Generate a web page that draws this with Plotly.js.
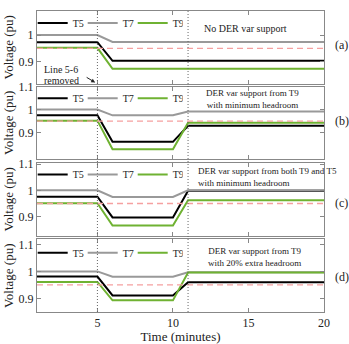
<!DOCTYPE html>
<html>
<head>
<meta charset="utf-8">
<script src="https://cdn.plot.ly/plotly-3.0.1.min.js"></script>
<style>
  html, body { margin: 0; padding: 0; background: #fff; }
  #chart { width: 349px; height: 344px; }
</style>
</head>
<body>
<div id="chart"></div>
<script>
// time points (minutes)
var tA = [1, 5, 6, 20];
var tB = [1, 5, 6, 10, 11, 20];

// (a) no DER var support
var a_T5 = [0.973, 0.973, 0.903, 0.903];
var a_T7 = [1.0, 1.0, 0.974, 0.974];
var a_T9 = [0.952, 0.952, 0.873, 0.873];

// (b) support from T9, minimum headroom
var b_T5 = [0.975, 0.975, 0.86, 0.86, 0.93, 0.93];
var b_T7 = [1.0, 1.0, 0.975, 0.975, 0.992, 0.992];
var b_T9 = [0.952, 0.952, 0.828, 0.828, 0.943, 0.943];

// (c) support from T9 and T5, minimum headroom
var c_T5 = [0.976, 0.976, 0.897, 0.897, 0.998, 0.998];
var c_T7 = [1.0, 1.0, 0.975, 0.975, 1.0, 1.0];
var c_T9 = [0.951, 0.951, 0.866, 0.866, 0.962, 0.962];

// (d) support from T9, 20% extra headroom
var d_T5 = [0.981, 0.981, 0.911, 0.911, 0.96, 0.96];
var d_T7 = [1.0, 1.0, 0.98, 0.98, 0.997, 0.997];
var d_T9 = [0.961, 0.961, 0.893, 0.893, 0.996, 0.996];

var vLimit = 0.95;
var events = [5, 11];

var names = ["T5", "T7", "T9"];
var colors = ["#000000", "#999999", "#6fb232"];
var serif = "Liberation Serif, Times New Roman, serif";

var panels = [
  { t: tA, ys: [a_T5, a_T7, a_T9] },
  { t: tB, ys: [b_T5, b_T7, b_T9] },
  { t: tB, ys: [c_T5, c_T7, c_T9] },
  { t: tB, ys: [d_T5, d_T7, d_T9] }
];
var yRanges = [[0.818, 1.09], [0.785, 1.1], [0.828, 1.104], [0.85, 1.118]];
var domains = [[0.759, 1], [0.508, 0.749], [0.254, 0.495], [0, 0.241]];
var legendY = [0.96, 0.71, 0.457, 0.197];

var data = [];
panels.forEach(function (p, k) {
  var sfx = k == 0 ? "" : String(k + 1);
  for (var i = 0; i < 3; i++) {
    data.push({
      x: p.t,
      y: p.ys[i],
      type: "scatter",
      mode: "lines",
      name: names[i],
      xaxis: "x" + sfx,
      yaxis: "y" + sfx,
      legend: "legend" + sfx,
      line: { color: colors[i], width: 2 }
    });
  }
});

var layout = {
  width: 349,
  height: 344,
  margin: { l: 37, r: 25, t: 9, b: 32 },
  paper_bgcolor: "#fff",
  plot_bgcolor: "#fff",
  font: { family: serif, size: 12, color: "#222" },
  showlegend: true,
  shapes: [],
  annotations: []
};

panels.forEach(function (p, k) {
  var sfx = k == 0 ? "" : String(k + 1);
  layout["xaxis" + sfx] = {
    anchor: "y" + sfx,
    domain: [0, 1],
    range: [1, 20],
    tickvals: [5, 10, 15, 20],
    ticks: "inside",
    ticklen: 4,
    tickcolor: "#888",
    showticklabels: k == 3,
    showline: true,
    mirror: "ticks",
    linecolor: "#888",
    linewidth: 1,
    showgrid: false,
    zeroline: false,
    tickfont: { size: 12, color: "#222" },
    title: k == 3 ? { text: "Time (minutes)", font: { size: 13 }, standoff: 1 } : { text: "" }
  };
  if (k > 0) layout["xaxis" + sfx].matches = "x";
  layout["yaxis" + sfx] = {
    anchor: "x" + sfx,
    domain: domains[k],
    range: yRanges[k],
    tickvals: [0.9, 1, 1.1],
    ticktext: ["0.9", "1", "1.1"],
    ticks: "inside",
    ticklen: 4,
    tickcolor: "#888",
    showline: true,
    mirror: "ticks",
    linecolor: "#888",
    linewidth: 1,
    showgrid: false,
    zeroline: false,
    tickfont: { size: 12, color: "#222" },
    title: { text: "Voltage (pu)", font: { size: 13 }, standoff: 2 }
  };
  layout["legend" + sfx] = {
    orientation: "h",
    x: -0.015,
    xanchor: "left",
    y: legendY[k],
    yanchor: "middle",
    bgcolor: "rgba(0,0,0,0)",
    font: { size: 10, family: serif, color: "#222" },
    itemwidth: 30,
    entrywidth: 5,
    tracegroupgap: 0
  };
  layout.shapes.push({
    type: "line", xref: "x" + sfx + " domain", yref: "y" + sfx,
    x0: 0, x1: 1, y0: vLimit, y1: vLimit,
    line: { color: "#f5a0a0", width: 1.3, dash: "6px,4px" }
  });
  layout.annotations.push({
    text: "(" + "abcd"[k] + ")", xref: "paper", yref: "y" + sfx + " domain",
    x: 1.03, y: [0.53, 0.52, 0.45, 0.48][k], xanchor: "left", yanchor: "middle",
    showarrow: false, font: { size: 12 }
  });
});

events.forEach(function (e) {
  layout.shapes.push({
    type: "line", xref: "x", yref: "paper", x0: e, x1: e, y0: 0, y1: 1,
    line: { color: "#666", width: 1, dash: "1px,2px" }
  });
});

var notes = [
  { text: "No DER var support", x: 14.8, y: 1.024, yr: "y", size: 10, anchor: "center" },
  { text: "DER var support from T9<br>with minimum headroom", x: 15.25, y: 1.046, yr: "y2", size: 9, anchor: "center" },
  { text: "DER var support from both T9 and T5<br>with minimum headroom", x: 11.5, y: 1.051, yr: "y3", size: 9, anchor: "left" },
  { text: "DER var support from T9<br>with 20% extra headroom", x: 15.45, y: 1.053, yr: "y4", size: 9, anchor: "center" },
  { text: "Line 5-6", x: 2.6, y: 0.87, yr: "y", size: 10, anchor: "center" },
  { text: "removed", x: 2.65, y: 0.828, yr: "y", size: 10, anchor: "center" }
];
notes.forEach(function (n) {
  layout.annotations.push({
    text: n.text, x: n.x, y: n.y, xref: "x", yref: n.yr,
    xanchor: n.anchor, yanchor: "middle", showarrow: false, align: n.anchor,
    font: { size: n.size, family: serif, color: "#222" }
  });
});
// arrow pointing at the line trip
layout.annotations.push({
  text: "", x: 4.85, y: 0.822, xref: "x", yref: "y",
  showarrow: true, arrowhead: 2, arrowsize: 0.8, arrowwidth: 1, arrowcolor: "#222",
  ax: -10, ay: -6
});

Plotly.newPlot("chart", data, layout, { displayModeBar: false });
</script>
</body>
</html>
